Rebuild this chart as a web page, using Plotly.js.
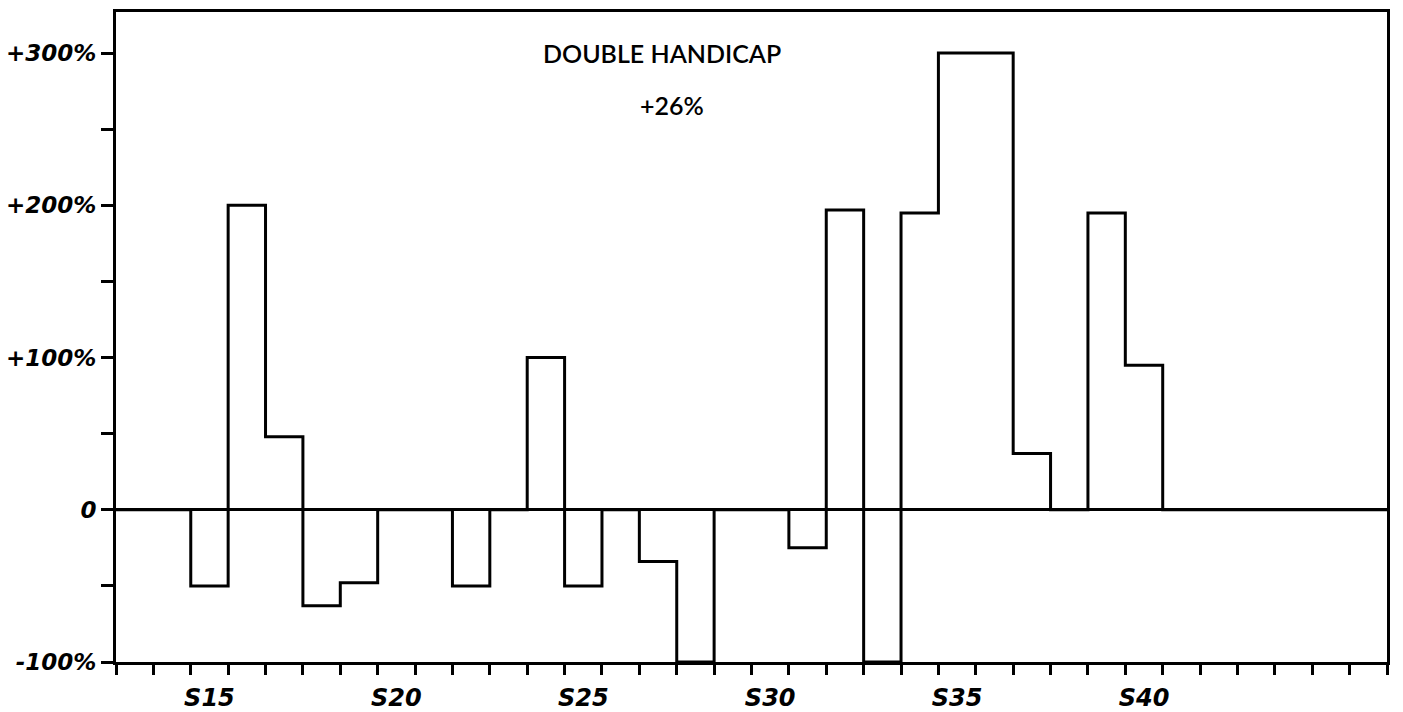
<!DOCTYPE html>
<html>
<head>
<meta charset="utf-8">
<script src="https://cdn.plot.ly/plotly-3.0.1.min.js"></script>
<style>
  html, body { margin: 0; padding: 0; background: #ffffff; }
  #chart { width: 1403px; height: 712px; }
</style>
</head>
<body>
<div id="chart"></div>
<script>
// Week numbers (S13 .. S46) and weekly change in %
const weeks = [13,14,15,16,17,18,19,20,21,22,23,24,25,26,27,28,29,30,31,32,33,34,35,36,37,38,39,40,41,42,43,44,45,46];
const changePct = [0,0,-50,200,48,-63,-48,0,0,-50,0,100,-50,0,-34,-100,0,0,-25,197,-100,195,300,300,37,0,195,95,0,0,0,0,0,0];

// Axis labels
const xLabelWeeks = [15,20,25,30,35,40];
const xLabelText = ['S15','S20','S25','S30','S35','S40'];
const yTickVals = [-100,-50,0,50,100,150,200,250,300];
const yTickText = ['-100%','','0','','+100%','','+200%','','+300%'];

const titleText = 'DOUBLE HANDICAP';
const totalText = '+26%';

// step outline: each week drawn from its start boundary to its end boundary
const stepX = weeks.map(w => w - 0.5).concat([weeks[weeks.length - 1] + 0.5]);
const stepY = changePct.concat([changePct[changePct.length - 1]]);

const trace = {
  type: 'scatter',
  mode: 'lines',
  x: stepX,
  y: stepY,
  line: { shape: 'hv', color: '#000000', width: 3 },
  hoverinfo: 'skip',
  showlegend: false
};

const handFontX = { family: 'DejaVu Sans', size: 24, color: '#000000', weight: 700, style: 'italic' };
const handFontY = { family: 'DejaVu Sans', size: 23, color: '#000000', weight: 700, style: 'italic' };

const layout = {
  width: 1403,
  height: 712,
  margin: { l: 116, r: 16, t: 12, b: 50 },
  paper_bgcolor: '#ffffff',
  plot_bgcolor: '#ffffff',
  showlegend: false,
  xaxis: {
    range: [weeks[0] - 0.5, weeks[weeks.length - 1] + 0.5],
    tickvals: xLabelWeeks,
    ticktext: xLabelText,
    ticks: '',
    ticklabelstandoff: 12,
    tickfont: handFontX,
    showgrid: false,
    zeroline: false,
    showline: true,
    linecolor: '#000000',
    linewidth: 3,
    mirror: true,
    minor: {
      tick0: weeks[0] - 0.5,
      dtick: 1,
      ticks: 'outside',
      ticklen: 10,
      tickwidth: 3,
      tickcolor: '#000000',
      showgrid: false
    },
    fixedrange: true
  },
  yaxis: {
    range: [-100, 327],
    tickvals: yTickVals,
    ticktext: yTickText,
    ticks: 'outside',
    ticklen: 12,
    tickwidth: 3,
    tickcolor: '#000000',
    tickfont: handFontY,
    showgrid: false,
    zeroline: true,
    zerolinecolor: '#000000',
    zerolinewidth: 3,
    showline: true,
    linecolor: '#000000',
    linewidth: 3,
    mirror: true,
    fixedrange: true
  },
  annotations: [
    {
      xref: 'paper', yref: 'paper', x: (662 - 116) / (1403 - 116 - 16), y: (712 - 50 - 53) / (712 - 12 - 50),
      text: titleText, showarrow: false, xanchor: 'center', yanchor: 'middle',
      font: { family: 'Lato', size: 25, color: '#000000', weight: 600 }
    },
    {
      xref: 'paper', yref: 'paper', x: (672 - 116) / (1403 - 116 - 16), y: (712 - 50 - 105) / (712 - 12 - 50),
      text: totalText, showarrow: false, xanchor: 'center', yanchor: 'middle',
      font: { family: 'Lato', size: 25, color: '#000000', weight: 600 }
    }
  ]
};

Plotly.newPlot('chart', [trace], layout, { displayModeBar: false, staticPlot: true });
</script>
</body>
</html>
